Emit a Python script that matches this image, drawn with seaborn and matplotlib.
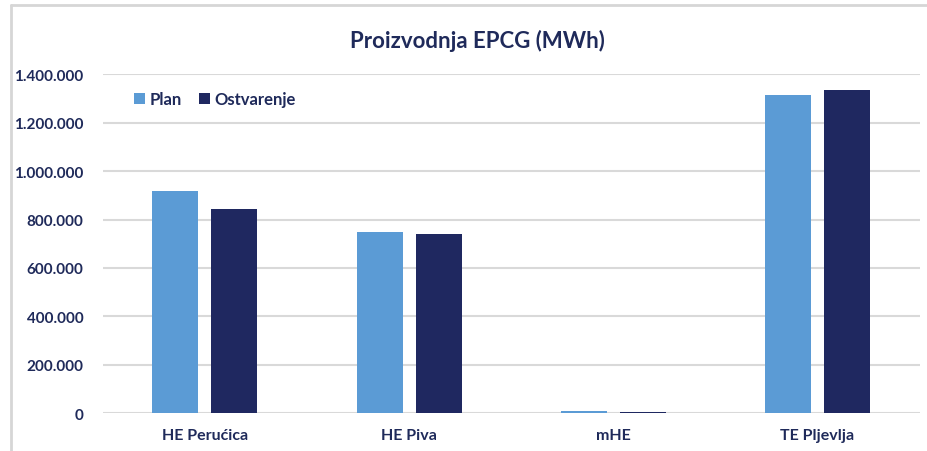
import matplotlib
matplotlib.use("Agg")
import matplotlib.pyplot as plt
import matplotlib.ticker as mticker
import pandas as pd
import seaborn as sns

# values (MWh)
categories = ["HE Perućica", "HE Piva", "mHE", "TE Pljevlja"]
plan = [919000, 750000, 9500, 1316000]
ostvarenje = [844000, 741000, 5000, 1334000]
series_names = ["Plan", "Ostvarenje"]
y_ticks = [0, 200000, 400000, 600000, 800000, 1000000, 1200000, 1400000]

df = pd.DataFrame({
    "kategorija": categories * 2,
    "serija": [series_names[0]] * len(categories) + [series_names[1]] * len(categories),
    "MWh": plan + ostvarenje,
})

sns.set_style("white")
plt.rcParams["font.family"] = ["Lato", "DejaVu Sans"]
text_col = "#1F2A5A"

fig = plt.figure(figsize=(9.27, 4.52), dpi=100)
ax = fig.add_axes([0.111, 0.084, 0.881, 0.749])

sns.barplot(data=df, x="kategorija", y="MWh", hue="serija", order=categories,
            hue_order=series_names, palette=["#5B9BD5", "#1F2860"],
            width=0.578, gap=0.22, linewidth=0, saturation=1, ax=ax)

ax.set_ylim(0, 1400000)
ax.set_xlim(-0.5, 3.5)
ax.set_yticks(y_ticks)
ax.yaxis.set_major_formatter(mticker.FuncFormatter(lambda v, p: f"{int(v):,}".replace(",", ".")))
ax.grid(axis="y", color="#D9D9D9", linewidth=1.5)
ax.set_axisbelow(True)
for s in ax.spines.values():
    s.set_visible(False)
ax.set_xlabel("")
ax.set_ylabel("")
ax.tick_params(axis="both", length=0, labelcolor=text_col)
ax.tick_params(axis="y", pad=14, labelsize=11)
ax.tick_params(axis="x", pad=11, labelsize=11.5)
for lbl in ax.get_xticklabels() + ax.get_yticklabels():
    lbl.set_fontweight("bold")

leg = ax.legend(loc="upper left", bbox_to_anchor=(0.02, 0.995), ncol=2, frameon=False,
                handlelength=0.65, handleheight=0.65, handletextpad=0.3, columnspacing=1.0,
                prop={"weight": "bold", "size": 12})
for t in leg.get_texts():
    t.set_color(text_col)

fig.text(0.515, 0.91, "Proizvodnja EPCG (MWh)", ha="center", va="center",
         fontsize=16, fontweight="bold", color=text_col)

# light frame (top and left edges visible in the reference)
fig.lines.append(plt.Line2D([0.012, 1.0], [0.986, 0.986], transform=fig.transFigure,
                            color="#D6D6D6", linewidth=2))
fig.lines.append(plt.Line2D([0.012, 0.012], [0.0, 0.986], transform=fig.transFigure,
                            color="#D6D6D6", linewidth=2))

fig.savefig("out.png", dpi=100)
